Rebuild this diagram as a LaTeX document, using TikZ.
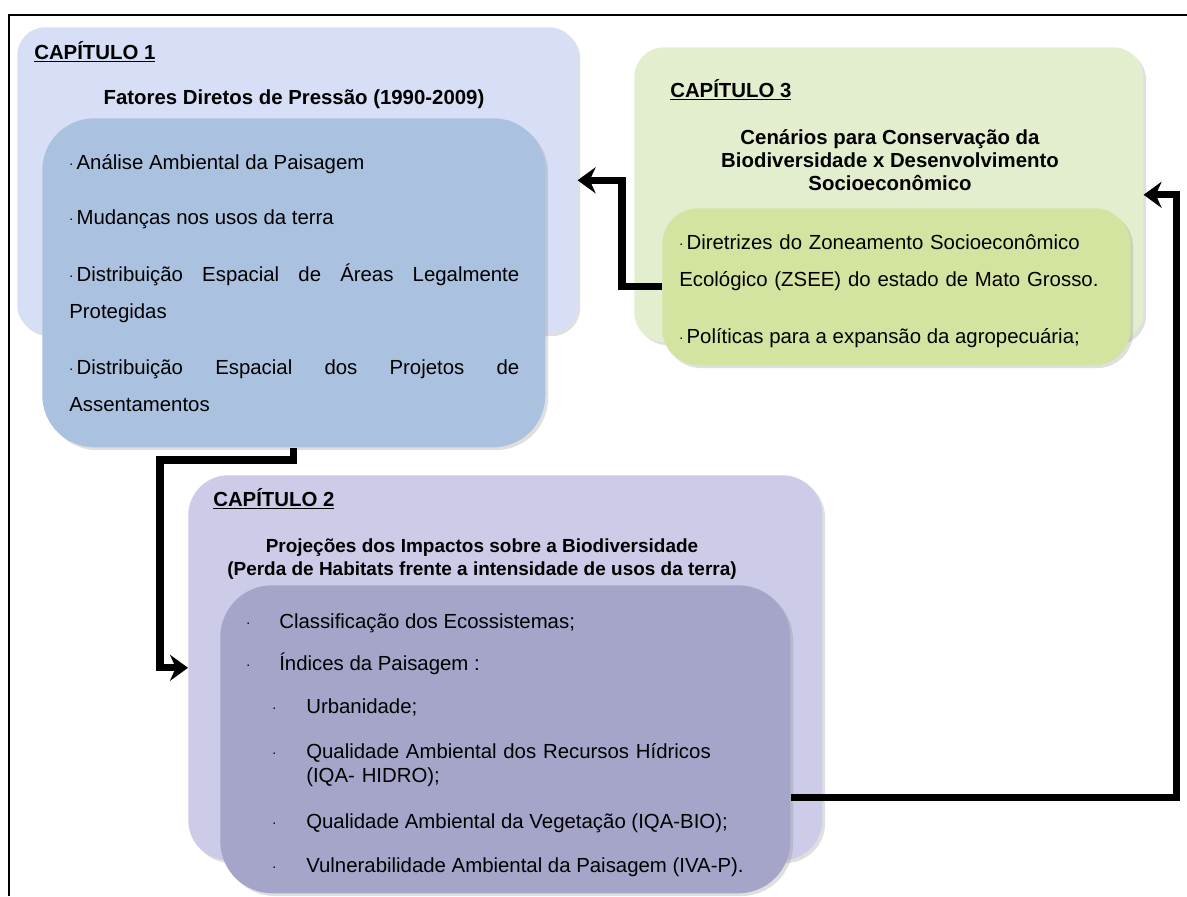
\documentclass[tikz,border=0pt]{standalone}
\usepackage{fontspec}
\setmainfont{Liberation Sans}
\usetikzlibrary{arrows.meta,shadows}

\definecolor{capablue}{RGB}{214,223,245}
\definecolor{itemblue}{RGB}{171,193,224}
\definecolor{capagreen}{RGB}{227,238,206}
\definecolor{itemgreen}{RGB}{211,227,160}
\definecolor{capalilac}{RGB}{204,204,232}
\definecolor{itemlilac}{RGB}{164,165,201}

\newcommand{\pto}{\raisebox{0.3ex}{\fontsize{10}{10}\selectfont.}}

\tikzset{
  caixa/.style={anchor=north west, inner sep=0pt,
    drop shadow={opacity=0.25, shadow xshift=2pt, shadow yshift=-2pt}},
  capitulo/.style={anchor=west, inner sep=0pt, font=\bfseries\fontsize{14.5}{17}\selectfont},
  titulo/.style={align=center, inner sep=0pt, font=\bfseries\fontsize{14.5}{16.5}\selectfont},
  item/.style={anchor=base west, inner sep=0pt, font=\fontsize{14.5}{27}\selectfont},
  subitem/.style={anchor=base west, inner sep=0pt, font=\fontsize{14.5}{17.5}\selectfont},
  seta/.style={line width=5pt, ->},
}

\begin{document}
\begin{tikzpicture}[x=0.25mm, y=-0.25mm, >={Stealth[length=4.5mm, width=6.5mm]}]
  \useasboundingbox (0,0) rectangle (1187,896);
  \draw[line width=1.5pt] (9,896) -- (9,15) -- (1187,15);

  % capitulo 1
  \node[caixa, fill=capablue, rounded corners=7mm, minimum width=140mm, minimum height=76.5mm] (c1out) at (17,27) {};
  \node[caixa, fill=itemblue, rounded corners=13mm, minimum width=125.75mm, minimum height=82.25mm] (c1in) at (42,118) {};
  \node[capitulo] (c1tag) at (34,52) {\underline{CAPÍTULO 1}};
  \node[titulo] (c1tit) at (294,99) {Fatores Diretos de Pressão (1990-2009)};
  \node[item] (c1a) at (69,169) {\pto\,Análise Ambiental da Paisagem};
  \node[item] (c1b) at (69,224) {\pto\,Mudanças nos usos da terra};
  \node[item, text width=112.5mm, align=justify] (c1c) at (69,281)
    {\pto\,Distribuição Espacial de Áreas Legalmente\linebreak Protegidas};
  \node[item, text width=112.5mm, align=justify] (c1d) at (69,374)
    {\pto\,Distribuição Espacial dos Projetos de\linebreak Assentamentos};

  % capitulo 3
  \node[caixa, fill=capagreen, rounded corners=7.5mm, minimum width=127.25mm, minimum height=73.75mm] (c3out) at (634,47) {};
  \node[caixa, fill=itemgreen, rounded corners=9mm, minimum width=117mm, minimum height=39.25mm] (c3in) at (662,208) {};
  \node[capitulo] (c3tag) at (670,90) {\underline{CAPÍTULO 3}};
  \node[titulo] (c3tit) at (890,160) {Cenários para Conservação da\\Biodiversidade x Desenvolvimento\\Socioeconômico};
  \node[item, text width=112mm, align=left] (c3a) at (679,249)
    {\pto\,Diretrizes do Zoneamento Socioeconômico\\Ecológico (ZSEE) do estado de Mato Grosso.};
  \node[item] (c3b) at (679,343) {\pto\,Políticas para a expansão da agropecuária;};

  % capitulo 2
  \node[caixa, fill=capalilac, rounded corners=10mm, minimum width=158.5mm, minimum height=96.25mm] (c2out) at (188,475) {};
  \node[caixa, fill=itemlilac, rounded corners=13mm, minimum width=142.5mm, minimum height=77mm] (c2in) at (220,585) {};
  \node[capitulo] (c2tag) at (213,499) {\underline{CAPÍTULO 2}};
  \node[titulo, font=\bfseries\fontsize{13.5}{16.5}\selectfont] (c2tit) at (482,559)
    {Projeções dos Impactos sobre a Biodiversidade\\(Perda de Habitats frente a intensidade de usos da terra)};
  \node[subitem] (c2a) at (246,628) {\makebox[8.25mm][l]{\pto}Classificação dos Ecossistemas;};
  \node[subitem] (c2b) at (246,670) {\makebox[8.25mm][l]{\pto}Índices da Paisagem :};
  \node[subitem] (c2c) at (272,713) {\makebox[8.5mm][l]{\pto}Urbanidade;};
  \node[subitem, text width=125mm, align=left] (c2d) at (272,758)
    {\makebox[8.5mm][l]{\pto}Qualidade Ambiental dos Recursos Hídricos\\\hspace*{8.5mm}(IQA- HIDRO);};
  \node[subitem] (c2e) at (272,828) {\makebox[8.5mm][l]{\pto}Qualidade Ambiental da Vegetação (IQA-BIO);};
  \node[subitem] (c2f) at (272,872) {\makebox[8.5mm][l]{\pto}Vulnerabilidade Ambiental da Paisagem (IVA-P).};

  % setas
  \coordinate (k1) at (160,460);
  \coordinate (k2) at (622,230);
  \coordinate (k3) at (1176,797);
  \draw[seta] (c1in.south) |- (k1) |- (c2out.west);
  \draw[seta] (c3in.west) -| (k2) |- (c1out.east);
  \draw[seta] (c2in.east |- k3) -- (k3) |- (c3out.east);
\end{tikzpicture}
\end{document}
